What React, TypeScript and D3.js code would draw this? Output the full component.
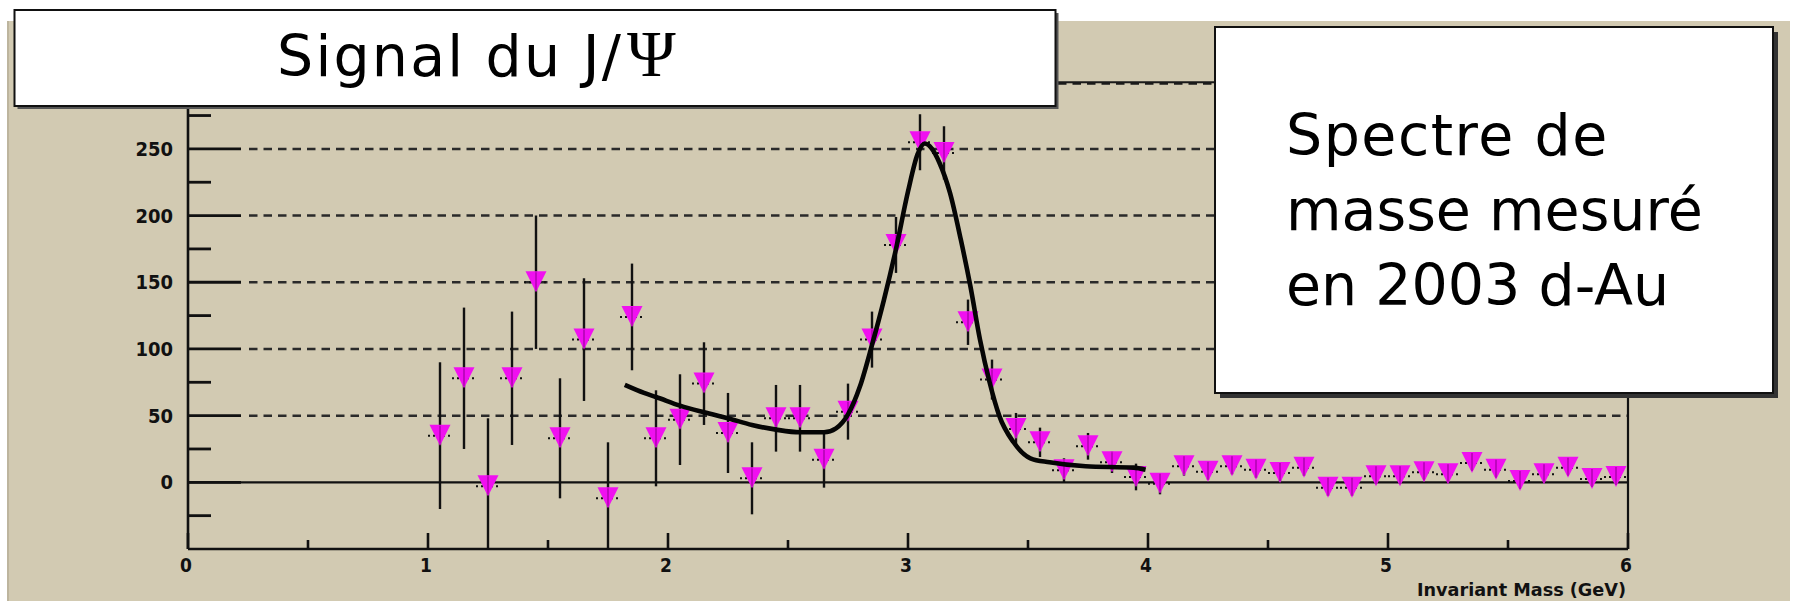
import React from 'react';
import * as d3 from 'd3';

// ---- data ----
const binCenters = [
  1.05, 1.15, 1.25, 1.35, 1.45, 1.55, 1.65, 1.75, 1.85, 1.95,
  2.05, 2.15, 2.25, 2.35, 2.45, 2.55, 2.65, 2.75, 2.85, 2.95,
  3.05, 3.15, 3.25, 3.35, 3.45, 3.55, 3.65, 3.75, 3.85, 3.95,
  4.05, 4.15, 4.25, 4.35, 4.45, 4.55, 4.65, 4.75, 4.85, 4.95,
  5.05, 5.15, 5.25, 5.35, 5.45, 5.55, 5.65, 5.75, 5.85, 5.95,
];
const counts = [
  35, 78, -3, 78, 150, 33, 107, -12, 124, 33,
  47, 74, 37, 3, 48, 48, 17, 53, 107, 178,
  255, 247, 120, 77, 40, 30, 9, 27, 15, 4,
  -1, 12, 8, 12, 9.5, 7, 11, -4, -4, 4.5,
  4.5, 7.5, 6, 14.5, 9.5, 1, 6, 11, 2.5, 4,
];
const errors = [
  55, 53, 51, 50, 50, 45, 46, 42, 40, 36,
  34, 31, 30, 27, 25, 25, 21, 21, 21, 21,
  21, 20, 17, 15, 12, 11, 9, 10, 8, 10,
  8, 7, 6, 6, 6, 6, 6, 6, 6, 5,
  5, 5, 5, 5, 5, 5, 5, 5, 5, 5,
];
const fitMass = [
  1.82, 1.9, 1.95, 2.05, 2.15, 2.25, 2.35, 2.45, 2.55, 2.65,
  2.7, 2.75, 2.8, 2.85, 2.9, 2.95, 3.0, 3.04, 3.07, 3.1,
  3.13, 3.175, 3.22, 3.26, 3.3, 3.34, 3.38, 3.44, 3.51, 3.59,
  3.74, 3.94, 3.99,
];
const fitValues = [
  73, 67, 64, 57.5, 52.5, 48, 43, 39.5, 37.5, 37.5,
  40.5, 51, 72, 103, 137, 175, 218, 246, 254, 250,
  240, 217, 182, 147, 107, 75, 50, 30, 18, 15,
  12, 11, 9.5,
];
const xTickValues = [0, 1, 2, 3, 4, 5, 6];
const xMinorTicks = [0.5, 1.5, 2.5, 3.5, 4.5, 5.5];
const yTickValues = [0, 50, 100, 150, 200, 250, 300];
const yMinorTicks = [-25, 25, 75, 125, 175, 225, 275];
const gridValues = [50, 100, 150, 200, 250];
const titleText = 'Signal du J/';
const titlePsi = 'Ψ';
const noteLines = ['Spectre de', 'masse mesuré', 'en 2003 d-Au'];
const xAxisTitle = 'Invariant Mass (GeV)';

const W = 1806;
const H = 606;
const BEIGE = '#d2cab2';
const MAGENTA = '#f010f0';
const AXIS_FONT = '"Liberation Sans Narrow", "DejaVu Sans Condensed", "Arial Narrow", sans-serif';
const TEXT_FONT = '"DejaVu Sans", "Noto Sans", sans-serif';

export default function App() {
  const x = d3.scaleLinear().domain([0, 6]).range([188, 1628]);
  const y = d3.scaleLinear().domain([-50, 300]).range([549, 82.2]);

  const fitPts: [number, number][] = fitMass.map((m, i) => [m, fitValues[i]]);
  const fitPath = d3
    .line<[number, number]>()
    .x((d) => x(d[0]))
    .y((d) => y(d[1]))
    .curve(d3.curveMonotoneX)(fitPts) as string;

  const [x0, x1] = x.range();
  const [yb, yt] = y.range();

  return (
    <svg
      width={W}
      height={H}
      viewBox={`0 0 ${W} ${H}`}
      style={{ position: 'absolute', left: 0, top: 0, background: '#ffffff' }}
    >
      <defs>
        <clipPath id="plotClip">
          <rect x={x0} y={yt} width={x1 - x0} height={yb - yt} />
        </clipPath>
      </defs>
      {/* panel */}
      <rect x={8} y={21} width={1782} height={580} fill={BEIGE} />
      <line x1={8} y1={21} x2={8} y2={601} stroke="#bdb59e" strokeWidth={2} />

      {/* dashed grid */}
      {gridValues.map((v) => (
        <line
          key={'g' + v}
          x1={x0 + 61}
          x2={x1}
          y1={y(v)}
          y2={y(v)}
          stroke="#2a2a2a"
          strokeWidth={2.5}
          strokeDasharray="8.5,6"
        />
      ))}
      {/* top frame (dotted look) */}
      <line x1={x0} x2={x1} y1={yt} y2={yt} stroke="#1a1a1a" strokeWidth={2} />
      <line x1={x0} x2={x1} y1={yt + 1.5} y2={yt + 1.5} stroke="#1a1a1a" strokeWidth={2} strokeDasharray="8.5,6" />
      {/* zero line */}
      <line x1={x0} x2={x1} y1={y(0)} y2={y(0)} stroke="#111" strokeWidth={2.2} />
      {/* frame */}
      <line x1={x0} x2={x0} y1={yt} y2={yb} stroke="#111" strokeWidth={2.6} />
      <line x1={x1} x2={x1} y1={yt} y2={yb} stroke="#111" strokeWidth={2.2} />
      <line x1={x0} x2={x1} y1={yb} y2={yb} stroke="#111" strokeWidth={2.6} />

      {/* y ticks */}
      {yTickValues.map((v) => (
        <line key={'yt' + v} x1={x0} x2={x0 + 53} y1={y(v)} y2={y(v)} stroke="#111" strokeWidth={2.8} />
      ))}
      {yMinorTicks.map((v) => (
        <line key={'ym' + v} x1={x0} x2={x0 + 23} y1={y(v)} y2={y(v)} stroke="#111" strokeWidth={2.8} />
      ))}
      {yTickValues.map((v) => (
        <text
          key={'yl' + v}
          x={173}
          y={y(v)}
          textAnchor="end"
          dominantBaseline="central"
          fontFamily={AXIS_FONT}
          fontWeight="bold"
          fontSize={20}
          fill="#111"
        >
          {v}
        </text>
      ))}

      {/* x ticks */}
      {xTickValues.map((v) => (
        <line key={'xt' + v} x1={x(v)} x2={x(v)} y1={yb} y2={yb - 16} stroke="#111" strokeWidth={2.6} />
      ))}
      {xMinorTicks.map((v) => (
        <line key={'xm' + v} x1={x(v)} x2={x(v)} y1={yb} y2={yb - 9} stroke="#111" strokeWidth={2.6} />
      ))}
      {xTickValues.map((v) => (
        <text
          key={'xl' + v}
          x={x(v) - 2}
          y={565}
          textAnchor="middle"
          dominantBaseline="central"
          fontFamily={AXIS_FONT}
          fontWeight="bold"
          fontSize={19}
          fill="#111"
        >
          {v}
        </text>
      ))}
      <text
        x={1626}
        y={596}
        textAnchor="end"
        fontFamily={AXIS_FONT}
        fontWeight="bold"
        fontSize={18}
        fill="#111"
        textLength={209}
        lengthAdjust="spacingAndGlyphs"
      >
        {xAxisTitle}
      </text>

      {/* data points */}
      <g clipPath="url(#plotClip)">
        {binCenters.map((m, i) => (
          <line
            key={'e' + i}
            x1={x(m)}
            x2={x(m)}
            y1={y(counts[i] + errors[i])}
            y2={y(counts[i] - errors[i])}
            stroke="#111"
            strokeWidth={2.4}
          />
        ))}
        {binCenters.map((m, i) => (
          <line
            key={'h' + i}
            x1={x(m - 0.05)}
            x2={x(m + 0.05)}
            y1={y(counts[i])}
            y2={y(counts[i])}
            stroke="#111"
            strokeWidth={2}
            strokeDasharray="2,3"
          />
        ))}
        {binCenters.map((m, i) => {
          const cx = x(m);
          const cy = y(counts[i]);
          return (
            <path
              key={'p' + i}
              d={`M${cx - 10.5},${cy - 11}L${cx + 10.5},${cy - 11}L${cx},${cy + 10}Z`}
              fill={MAGENTA}
            />
          );
        })}
        {binCenters.map((m, i) => (
          <line
            key={'ei' + i}
            x1={x(m)}
            x2={x(m)}
            y1={y(counts[i]) - 10}
            y2={y(counts[i]) + 8}
            stroke="#a000a0"
            strokeWidth={2}
            opacity={0.6}
          />
        ))}
        <path d={fitPath} fill="none" stroke="#050505" strokeWidth={4.6} strokeLinejoin="round" />
      </g>

      {/* title box */}
      <rect x={17.5} y={13} width={1041} height={96} fill="#555" />
      <rect x={14.5} y={10} width={1041} height={96} fill="#fff" stroke="#111" strokeWidth={2} />
      <text x={277} y={76} fontFamily={TEXT_FONT} fontSize={57} fill="#000" letterSpacing={2.2}>
        {titleText}
        <tspan fontFamily='"Liberation Serif", "DejaVu Serif", serif' fontSize={66} dx={4}>
          {titlePsi}
        </tspan>
      </text>

      {/* note box */}
      <rect x={1220} y={32} width={558} height={366} fill="#333" />
      <rect x={1215} y={27} width={558} height={366} fill="#fff" stroke="#111" strokeWidth={2} />
      {noteLines.map((t, i) => (
        <text
          key={'n' + i}
          x={1286}
          y={155 + i * 75}
          fontFamily={TEXT_FONT}
          fontSize={57}
          fill="#000"
          letterSpacing={i === 0 ? 1.5 : 0}
        >
          {t}
        </text>
      ))}
    </svg>
  );
}
